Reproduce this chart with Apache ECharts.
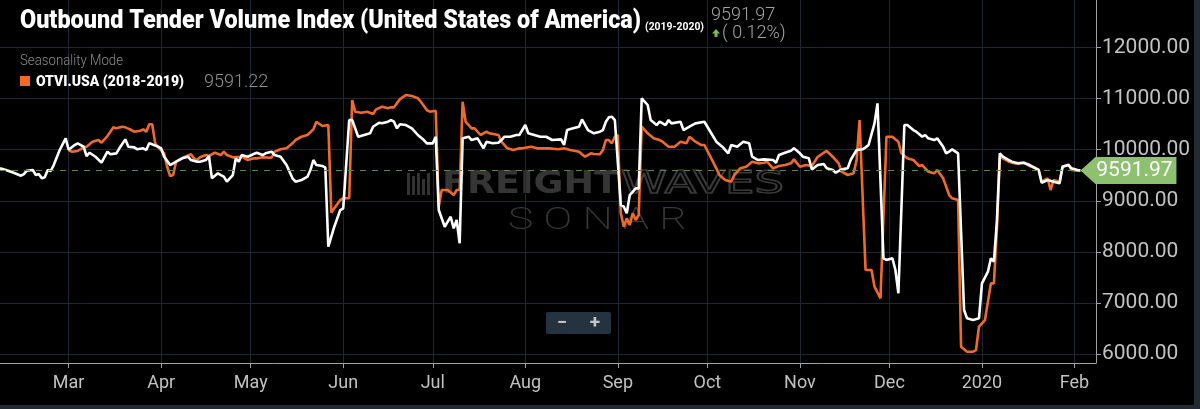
<!DOCTYPE html>
<html><head><meta charset="utf-8">
<script src="https://cdn.jsdelivr.net/npm/echarts@6/dist/echarts.min.js"></script>
<style>html,body{margin:0;padding:0;background:#000;}#c{width:1200px;height:409px;}</style>
</head><body><div id="c"></div>
<script>
const whiteDates = ['2019-02-06','2019-02-08','2019-02-11','2019-02-13','2019-02-14','2019-02-15','2019-02-17','2019-02-18','2019-02-19','2019-02-20','2019-02-21','2019-02-22','2019-02-23','2019-02-24','2019-02-26','2019-02-28',
'2019-03-01','2019-03-03','2019-03-04','2019-03-06','2019-03-07','2019-03-08','2019-03-10','2019-03-12','2019-03-14','2019-03-15','2019-03-17','2019-03-18','2019-03-20','2019-03-21','2019-03-23','2019-03-24','2019-03-26','2019-03-27','2019-03-28','2019-03-29','2019-03-31',
'2019-04-01','2019-04-02','2019-04-04','2019-04-06','2019-04-08','2019-04-10','2019-04-11','2019-04-13','2019-04-14','2019-04-16','2019-04-17','2019-04-18','2019-04-20','2019-04-21','2019-04-22','2019-04-23','2019-04-25','2019-04-26','2019-04-27','2019-04-28','2019-04-30',
'2019-05-02','2019-05-03','2019-05-05','2019-05-06','2019-05-08','2019-05-09','2019-05-11','2019-05-13','2019-05-15','2019-05-16','2019-05-18','2019-05-20','2019-05-21','2019-05-22','2019-05-23','2019-05-25','2019-05-26','2019-05-27','2019-05-28','2019-05-29','2019-05-31',
'2019-06-01','2019-06-03','2019-06-04','2019-06-05','2019-06-06','2019-06-08','2019-06-10','2019-06-11','2019-06-13','2019-06-14','2019-06-16','2019-06-17','2019-06-18','2019-06-19','2019-06-20','2019-06-22','2019-06-24','2019-06-26','2019-06-28','2019-06-29',
'2019-07-01','2019-07-02','2019-07-03','2019-07-05','2019-07-07','2019-07-08','2019-07-09','2019-07-10','2019-07-11','2019-07-13','2019-07-14','2019-07-16','2019-07-18','2019-07-19','2019-07-21','2019-07-23','2019-07-24','2019-07-25','2019-07-27','2019-07-29','2019-07-30',
'2019-08-01','2019-08-02','2019-08-04','2019-08-06','2019-08-08','2019-08-10','2019-08-13','2019-08-14','2019-08-15','2019-08-17','2019-08-19','2019-08-20','2019-08-22','2019-08-24','2019-08-26','2019-08-27','2019-08-28','2019-08-29','2019-08-30','2019-08-31',
'2019-09-02','2019-09-03','2019-09-04','2019-09-05','2019-09-07','2019-09-08','2019-09-09','2019-09-11','2019-09-12','2019-09-14','2019-09-15','2019-09-17','2019-09-18','2019-09-19','2019-09-22','2019-09-23','2019-09-25','2019-09-27','2019-09-30',
'2019-10-02','2019-10-04','2019-10-06','2019-10-08','2019-10-09','2019-10-11','2019-10-13','2019-10-15','2019-10-16','2019-10-18','2019-10-20','2019-10-23','2019-10-24','2019-10-25','2019-10-27','2019-10-29','2019-10-30',
'2019-11-01','2019-11-02','2019-11-04','2019-11-05','2019-11-07','2019-11-09','2019-11-10','2019-11-12','2019-11-13','2019-11-15','2019-11-17','2019-11-18','2019-11-20','2019-11-22','2019-11-23','2019-11-24','2019-11-26','2019-11-27','2019-11-29','2019-11-30',
'2019-12-02','2019-12-03','2019-12-04','2019-12-06','2019-12-07','2019-12-09','2019-12-10','2019-12-12','2019-12-13','2019-12-14','2019-12-16','2019-12-17','2019-12-19','2019-12-20','2019-12-21','2019-12-22','2019-12-24','2019-12-26','2019-12-27','2019-12-29','2019-12-31',
'2020-01-01','2020-01-03','2020-01-04','2020-01-05','2020-01-06','2020-01-07','2020-01-08','2020-01-10','2020-01-11','2020-01-13','2020-01-15','2020-01-17','2020-01-19','2020-01-20','2020-01-21','2020-01-23','2020-01-25','2020-01-27','2020-01-28','2020-01-30','2020-01-31',
'2020-02-02','2020-02-03'];
const whiteValues = [9636,9603,9538,9491,9524,9589,9603,9505,9524,9440,9460,9603,9583,9700,9994,10223,
10000,10092,10125,10059,9877,9941,9863,9746,9961,9910,9929,10027,10203,10059,10046,10008,10027,9994,10125,10105,10059,
10027,9863,9700,9765,9831,9863,9798,9765,9765,9798,9877,9440,9538,9505,9472,9374,9505,9831,9765,9896,9863,
9916,9941,9896,9929,9961,9896,9863,9700,9440,9374,9407,9472,9603,9798,9700,9681,9655,8102,8298,8493,8820,
8853,10581,10581,10418,10254,10288,10321,10450,10528,10516,10548,10581,10548,10418,10500,10483,10418,10288,10190,10125,
10125,10254,8820,8493,8689,8462,8624,8168,10223,10254,10190,10223,10027,10157,10125,10137,10190,10254,10254,10288,10288,
10483,10321,10288,10254,10254,10190,10203,10092,10385,10418,10450,10594,10385,10321,10352,10385,10548,10634,10646,10581,
8918,8885,8755,9113,9244,9244,11006,10875,10581,10483,10548,10483,10581,10516,10548,10385,10450,10516,10548,
10352,10157,10059,9929,10092,10059,10157,10125,9863,9798,9811,9798,9746,9896,9941,9980,10027,
9930,9863,9831,9616,9700,9720,9636,9603,9550,9616,9636,9798,9994,10008,10046,10092,10516,10908,7875,7842,
7875,7646,7190,10483,10483,10385,10352,10254,10288,10223,10190,10223,10059,9929,9961,10008,9929,6863,6700,6667,6700,
7385,7613,7875,7808,8600,9929,9863,9798,9765,9733,9746,9700,9636,9603,9354,9407,9374,9342,9667,9700,9636,
9603,9591.97];

const orangeDates = ['2019-03-01','2019-03-02','2019-03-04','2019-03-06','2019-03-07','2019-03-09','2019-03-11','2019-03-12','2019-03-14','2019-03-16','2019-03-17','2019-03-19','2019-03-20','2019-03-22','2019-03-23','2019-03-25','2019-03-26','2019-03-27','2019-03-28','2019-03-29','2019-03-30','2019-03-31',
'2019-04-01','2019-04-02','2019-04-03','2019-04-04','2019-04-05','2019-04-06','2019-04-07','2019-04-09','2019-04-11','2019-04-12','2019-04-13','2019-04-14','2019-04-16','2019-04-17','2019-04-19','2019-04-21','2019-04-22','2019-04-23','2019-04-25','2019-04-28','2019-04-30',
'2019-05-02','2019-05-03','2019-05-05','2019-05-08','2019-05-09','2019-05-11','2019-05-13','2019-05-15','2019-05-16','2019-05-18','2019-05-20','2019-05-22','2019-05-23','2019-05-25','2019-05-27','2019-05-28','2019-05-29','2019-05-31',
'2019-06-01','2019-06-03','2019-06-04','2019-06-05','2019-06-07','2019-06-09','2019-06-11','2019-06-12','2019-06-14','2019-06-16','2019-06-17','2019-06-18','2019-06-20','2019-06-22','2019-06-24','2019-06-26','2019-06-27','2019-06-29','2019-06-30',
'2019-07-02','2019-07-03','2019-07-04','2019-07-06','2019-07-08','2019-07-09','2019-07-10','2019-07-11','2019-07-12','2019-07-14','2019-07-15','2019-07-17','2019-07-19','2019-07-20','2019-07-23','2019-07-24','2019-07-26','2019-07-28','2019-07-30','2019-07-31',
'2019-08-03','2019-08-05','2019-08-07','2019-08-09','2019-08-12','2019-08-14','2019-08-16','2019-08-19','2019-08-21','2019-08-23','2019-08-24','2019-08-26','2019-08-27','2019-08-28','2019-08-29','2019-08-30','2019-08-31',
'2019-09-01','2019-09-02','2019-09-03','2019-09-04','2019-09-05','2019-09-06','2019-09-07','2019-09-08','2019-09-09','2019-09-11','2019-09-13','2019-09-15','2019-09-16','2019-09-18','2019-09-20','2019-09-22','2019-09-24','2019-09-25','2019-09-27','2019-09-29','2019-09-30',
'2019-10-02','2019-10-04','2019-10-05','2019-10-07','2019-10-09','2019-10-10','2019-10-12','2019-10-14','2019-10-16','2019-10-18','2019-10-20','2019-10-21','2019-10-23','2019-10-25','2019-10-27','2019-10-29','2019-10-30',
'2019-11-01','2019-11-03','2019-11-05','2019-11-07','2019-11-09','2019-11-10','2019-11-12','2019-11-14','2019-11-15','2019-11-17','2019-11-19','2019-11-20','2019-11-21','2019-11-23','2019-11-25','2019-11-26','2019-11-28','2019-11-30',
'2019-12-02','2019-12-04','2019-12-05','2019-12-07','2019-12-09','2019-12-11','2019-12-12','2019-12-14','2019-12-16','2019-12-17','2019-12-19','2019-12-21','2019-12-22','2019-12-24','2019-12-25','2019-12-27','2019-12-29','2019-12-30','2019-12-31',
'2020-01-02','2020-01-04','2020-01-05','2020-01-06','2020-01-07','2020-01-08','2020-01-10','2020-01-12','2020-01-13','2020-01-15','2020-01-17','2020-01-19','2020-01-20','2020-01-21','2020-01-23','2020-01-24','2020-01-25','2020-01-27','2020-01-28','2020-01-30','2020-01-31',
'2020-02-02','2020-02-03'];
const orangeValues = [9994,9961,9975,10046,10059,10157,10190,10137,10268,10438,10418,10450,10438,10385,10352,10372,10399,10352,10497,10497,10125,10046,
9990,9929,9667,9485,9505,9765,9798,9863,9910,9831,9798,9851,9896,9877,9941,9896,9961,9896,9851,9863,9798,
9831,9831,9851,9843,9961,10008,10027,10125,10190,10254,10288,10399,10548,10464,10483,8767,8853,9016,
9049,9049,10973,10744,10724,10744,10698,10790,10842,10810,10829,10829,10990,11071,11051,11006,10940,10777,10744,
10764,8885,9211,9211,9113,9211,9211,10940,10548,10418,10418,10288,10352,10321,10288,10157,10027,9994,10027,10027,
10059,10027,10027,10027,10008,10027,9994,9961,9863,9929,9916,9910,9994,10190,10190,10125,10254,
10288,8755,8493,8657,8526,8755,8624,8722,10450,10321,10223,10190,10157,10059,10059,10157,10125,10254,10157,10092,10092,
9863,9636,9505,9407,9374,9505,9636,9667,9765,9733,9746,9765,9636,9681,9700,9733,9811,
9667,9700,9681,9863,9941,9975,9863,9733,9570,9505,9538,9798,10581,7646,7646,7319,7092,10254,
10254,10157,9929,9831,9798,9681,9700,9570,9538,9603,9440,9113,9049,9016,6145,6047,6047,6080,6536,
6667,7385,7385,8429,9863,9830,9765,9733,9733,9746,9681,9636,9603,9374,9440,9211,9407,9374,9667,9714,9603,
9589,9591.22];

const monthNames = ['Jan','Feb','Mar','Apr','May','Jun','Jul','Aug','Sep','Oct','Nov','Dec'];
const titleText = 'Outbound Tender Volume Index (United States of America)';
const titleRange = '(2019-2020)';
const changeText = '( 0.12%)';
const modeText = 'Seasonality Mode';
const orangeName = 'OTVI.USA (2018-2019)';
const whiteName = 'OTVI.USA (2019-2020)';

const whiteData = whiteDates.map((d, i) => [d, whiteValues[i]]);
const orangeData = orangeDates.map((d, i) => [d, orangeValues[i]]);
const lastWhite = whiteValues[whiteValues.length - 1];
const lastWhiteDate = whiteDates[whiteDates.length - 1];
const lastOrange = orangeValues[orangeValues.length - 1];

// horizontal squeeze so that condensed-looking text fits the reference widths
const mctx = document.createElement('canvas').getContext('2d');
function fitScale(text, font, width) { mctx.font = font; const w = mctx.measureText(text).width; return w > 0 ? width / w : 1; }
const TITLE_FONT = '900 25px Roboto';
const LEG_FONT = '900 15px Roboto';
const FR_FONT = '900 32px "DejaVu Sans"';
const WV_FONT = '32px "DejaVu Sans"';
const SO_FONT = '200 31px Roboto';
const sonarText = 'S O N A R';

const chart = echarts.init(document.getElementById('c'));
chart.setOption({
  backgroundColor: '#000000',
  animation: false,
  grid: { left: 0, right: 104, top: 0, bottom: 46, containLabel: false },
  xAxis: {
    type: 'time',
    min: '2019-02-06',
    max: '2020-02-08 05:00',
    splitNumber: 12,
    axisLine: { show: true, lineStyle: { color: '#a0a0a0', width: 1 } },
    axisTick: { show: true, length: 5, lineStyle: { color: '#a0a0a0' } },
    minorTick: { show: false },
    axisLabel: {
      color: '#c2c2c2', fontSize: 18, fontFamily: 'Roboto', margin: 11,
      showMinLabel: false, showMaxLabel: false,
      formatter: function (v) {
        const d = new Date(v);
        if (d.getDate() !== 1) return '';
        return d.getMonth() === 0 ? String(d.getFullYear()) : monthNames[d.getMonth()];
      }
    },
    splitLine: { show: true, showMinLine: false, lineStyle: { color: '#1c2834', width: 1 } }
  },
  yAxis: {
    type: 'value',
    position: 'right',
    min: 5826,
    max: 12930,
    splitNumber: 7,
    axisLine: { show: true, lineStyle: { color: '#a0a0a0', width: 1 } },
    axisTick: { show: true, length: 5, lineStyle: { color: '#a0a0a0' } },
    axisLabel: {
      color: '#c2c2c2', fontSize: 21, fontFamily: 'Roboto', margin: 6,
      showMinLabel: false, showMaxLabel: false,
      formatter: v => v.toFixed(2)
    },
    splitLine: { show: true, showMaxLine: false, showMinLine: false, lineStyle: { color: '#1c2834', width: 1 } }
  },
  series: [
    {
      name: orangeName, type: 'line', data: orangeData, showSymbol: false, z: 2,
      lineStyle: { color: '#f06a2a', width: 2.6 }, itemStyle: { color: '#f06a2a' }
    },
    {
      name: whiteName, type: 'line', data: whiteData, showSymbol: false, z: 3,
      lineStyle: { color: '#ffffff', width: 2.6 }, itemStyle: { color: '#ffffff' },
      markLine: {
        silent: true, symbol: ['none', 'none'], animation: false,
        label: { show: false },
        lineStyle: { type: [6, 6], color: '#5b8a3f', width: 1 },
        data: [{ yAxis: lastWhite }]
      },
      markPoint: {
        silent: true, animation: false,
        symbol: 'path://M0,13.5L15,0L96,0L96,27L15,27Z',
        symbolSize: [96, 27], symbolOffset: [48, 0],
        itemStyle: { color: '#8dc170' },
        label: { show: true, formatter: lastWhite.toFixed(2), color: '#ffffff', fontSize: 21, fontFamily: 'Roboto', offset: [6, 0] },
        data: [{ coord: [lastWhiteDate, lastWhite] }]
      }
    }
  ],
  graphic: [
    { type: 'text', x: 20, y: 22, z: 10, scaleX: fitScale(titleText, TITLE_FONT, 621), style: { text: titleText, fill: '#ffffff', font: TITLE_FONT, verticalAlign: 'middle' } },
    { type: 'text', x: 645, y: 27, z: 10, scaleX: fitScale(titleRange, 'bold 11px Roboto', 59), style: { text: titleRange, fill: '#ffffff', font: 'bold 11px Roboto', verticalAlign: 'middle' } },
    { type: 'text', x: 711, y: 15, z: 10, style: { text: lastWhite.toFixed(2), fill: '#a3a3a3', font: '300 18px Roboto', verticalAlign: 'middle' } },
    { type: 'polygon', z: 10, shape: { points: [[716, 29], [720, 33.5], [717.5, 33.5], [717.5, 37], [714.5, 37], [714.5, 33.5], [712, 33.5]] }, style: { fill: '#7cbc4c' } },
    { type: 'text', x: 722, y: 33, z: 10, style: { text: changeText, fill: '#a3a3a3', font: '300 18px Roboto', verticalAlign: 'middle' } },
    { type: 'text', x: 20, y: 61, z: 10, scaleX: fitScale(modeText, '300 14px Roboto', 103), style: { text: modeText, fill: '#8c8c8c', font: '300 14px Roboto', verticalAlign: 'middle' } },
    // legend
    { type: 'rect', z: 10, shape: { x: 20, y: 76, width: 10, height: 10 }, style: { fill: '#f06a2a' } },
    { type: 'text', x: 36, y: 82, z: 10, scaleX: fitScale(orangeName, LEG_FONT, 148), style: { text: orangeName, fill: '#ffffff', font: LEG_FONT, verticalAlign: 'middle' } },
    { type: 'text', x: 204, y: 82, z: 10, style: { text: lastOrange.toFixed(2), fill: '#8f8f8f', font: '300 18px Roboto', verticalAlign: 'middle' } },
    // watermark
    { type: 'group', z: 1, silent: true, children: [
      { type: 'rect', shape: { x: 407, y: 173, width: 3, height: 22 }, style: { fill: '#333' } },
      { type: 'rect', shape: { x: 412, y: 176, width: 3, height: 19 }, style: { fill: '#333' } },
      { type: 'rect', shape: { x: 417, y: 173, width: 3, height: 22 }, style: { fill: '#333' } },
      { type: 'rect', shape: { x: 422, y: 179, width: 3, height: 16 }, style: { fill: '#333' } },
      { type: 'rect', shape: { x: 427, y: 173, width: 3, height: 22 }, style: { fill: '#333' } },
      { type: 'text', x: 442, y: 185, scaleX: fitScale('FREIGHT', FR_FONT, 177), style: { text: 'FREIGHT', fill: '#353535', font: FR_FONT, verticalAlign: 'middle' } },
      { type: 'text', x: 621, y: 185, scaleX: fitScale('WAVES', WV_FONT, 163), style: { text: 'WAVES', fill: 'none', stroke: '#3a3a3a', lineWidth: 1.5, font: WV_FONT, verticalAlign: 'middle' } },
      { type: 'text', x: 508, y: 221, scaleX: fitScale(sonarText, SO_FONT, 179), style: { text: sonarText, fill: '#383838', font: SO_FONT, verticalAlign: 'middle' } }
    ] },
    // zoom control
    { type: 'rect', z: 10, shape: { x: 546, y: 312, width: 65, height: 22, r: 2 }, style: { fill: '#253341' } },
    { type: 'text', z: 11, x: 562, y: 323, style: { text: '\u2212', fill: '#c8c8c8', font: 'bold 18px Roboto', align: 'center', verticalAlign: 'middle' } },
    { type: 'text', z: 11, x: 595, y: 323, style: { text: '+', fill: '#c8c8c8', font: 'bold 19px Roboto', align: 'center', verticalAlign: 'middle' } },
    // frame
    { type: 'rect', z: 20, shape: { x: 0, y: 405, width: 1200, height: 4 }, style: { fill: '#242a31' } },
    { type: 'rect', z: 20, shape: { x: 1194, y: 0, width: 6, height: 409 }, style: { fill: '#242a31' } }
  ]
});
</script>
</body></html>
